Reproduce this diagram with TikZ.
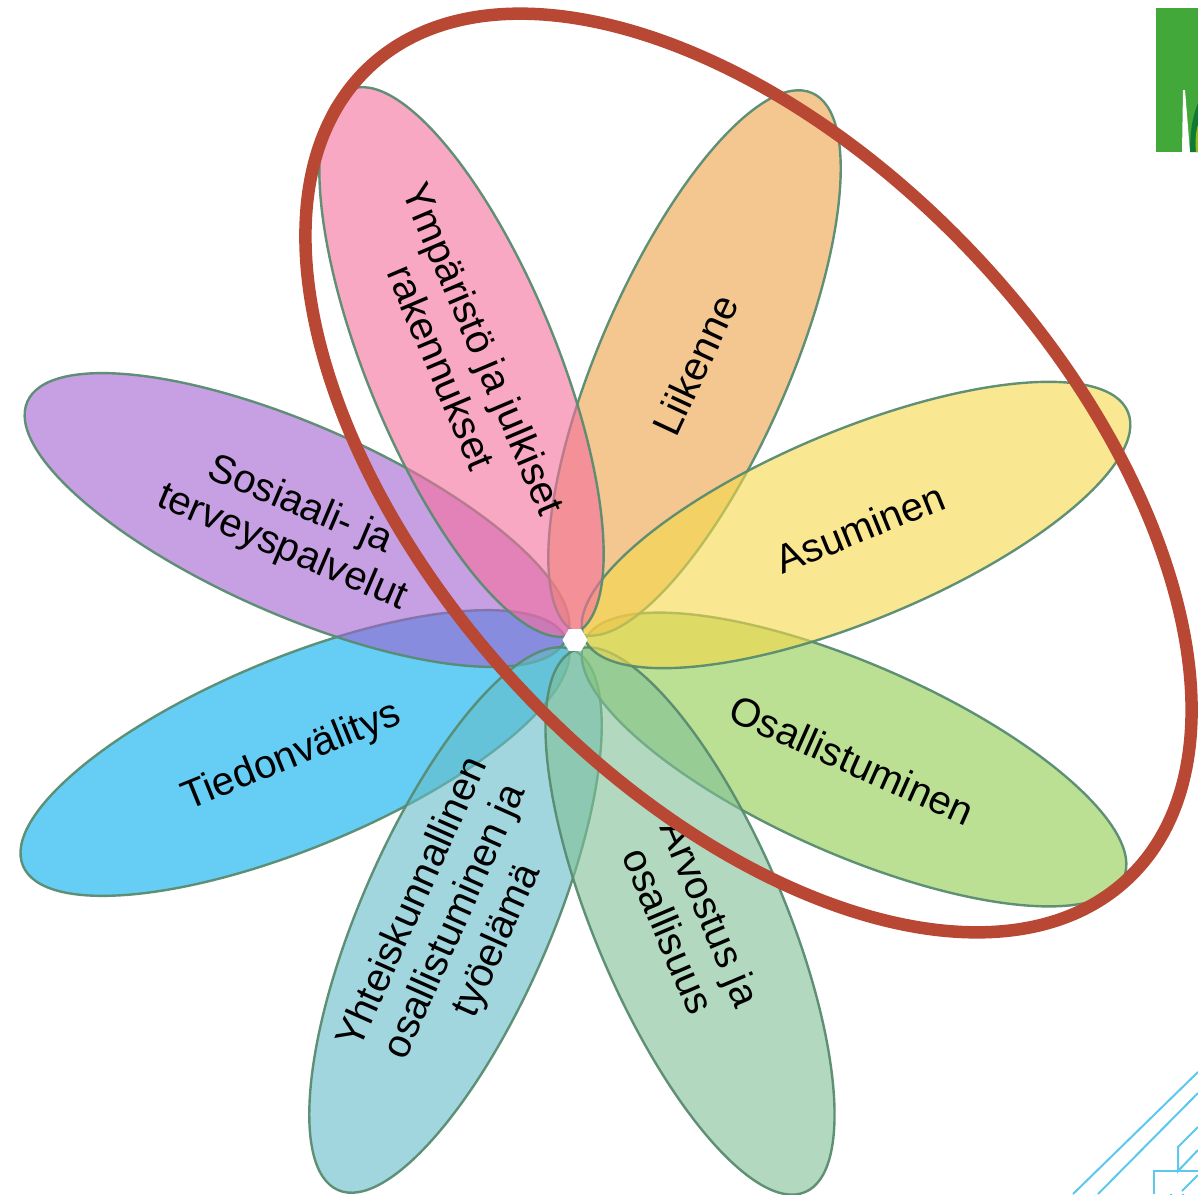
\documentclass[tikz,border=0pt]{standalone}
\usepackage{fontspec}
\setmainfont{Liberation Sans}
\usetikzlibrary{shapes.geometric}
\definecolor{cPink}{RGB}{245,110,157}
\definecolor{cOrange}{RGB}{238,162,72}
\definecolor{cYellow}{RGB}{245,217,73}
\definecolor{cGreen}{RGB}{143,203,75}
\definecolor{cSage}{RGB}{128,192,150}
\definecolor{cTeal}{RGB}{100,187,200}
\definecolor{cBlue}{RGB}{0,172,238}
\definecolor{cPurple}{RGB}{160,97,208}
\definecolor{cEdge}{RGB}{88,140,112}
\definecolor{cRed}{RGB}{184,72,52}
\definecolor{cLogo}{RGB}{66,168,58}
\definecolor{cLogoDark}{RGB}{14,122,50}
\definecolor{cLogoLime}{RGB}{150,190,30}
\definecolor{cLine}{RGB}{92,200,238}
\tikzset{
  petal/.style={ellipse,inner sep=0pt,minimum width=589pt,minimum height=190pt,
    fill=#1,fill opacity=0.6,draw=cEdge,line width=2.4pt,draw opacity=0.95},
  lbl/.style={font=\fontsize{40}{46}\selectfont,align=center,text=black,inner sep=0pt},
  ring/.style={ellipse,inner sep=0pt,minimum width=1111pt,minimum height=628pt,
    draw=cRed,line width=12.5pt},
  deco/.style={draw=cLine,line width=2pt}
}
\begin{document}
\begin{tikzpicture}[x=1pt,y=-1pt]
\useasboundingbox (0,0) rectangle (1198,1194);
\clip (0,0) rectangle (1198,1194);
\fill[white] (0,0) rectangle (1198,1194);
% logo fragment
\fill[cLogo] (1156,8) -- (1198,8) -- (1198,152) -- (1156,152) -- cycle;
\fill[white] (1182,152) -- (1183,90) -- (1185,90) -- (1190,152) -- cycle;
\fill[cLogoDark] (1190,152) .. controls (1190,130) and (1193,115) .. (1198,103) -- (1198,152) -- cycle;
\fill[cLogoLime] (1196,152) .. controls (1195,140) and (1196,130) .. (1198,125) -- (1198,152) -- cycle;
% circuit lines
\draw[deco] (1073,1194) -- (1198,1072);
\draw[deco] (1098,1194) -- (1198,1093);
\draw[deco] (1198,1127) -- (1178,1147) -- (1178,1171) -- (1198,1150);
\draw[deco] (1198,1171) -- (1154,1171) -- (1154,1194);
\draw[deco] (1171,1194) arc (180:0:6);
\draw[deco] (1182,1191) -- (1198,1175);
% petals, back to front
\node[petal=cBlue,rotate=22.5] (pBlue) at (295,753) {};
\node[petal=cPurple,rotate=-23.7] (pPurple) at (297,520) {};
\node[petal=cTeal,rotate=66.5] (pTeal) at (455.5,920) {};
\node[petal=cGreen,rotate=-23.7] (pGreen) at (854,759.5) {};
\node[petal=cSage,rotate=-67] (pSage) at (690,921) {};
\node[petal=cOrange,rotate=66.5] (pOrange) at (694.5,363) {};
\node[petal=cYellow,rotate=22.6] (pYellow) at (856,525) {};
\node[petal=cPink,rotate=-67.7] (pPink) at (461.5,362) {};
\node[regular polygon,regular polygon sides=6,minimum size=25pt,inner sep=0pt,fill=white] (hub) at (575,640) {};
% labels
\node[lbl,rotate=65] (tLiikenne) at (695,365) {Liikenne};
\node[lbl,rotate=22] (tAsuminen) at (860,528) {Asuminen};
\node[lbl,rotate=-24] (tOsall) at (852,760) {Osallistuminen};
\node[lbl,rotate=-67] (tYmp) at (463,358) {Ympäristö ja julkiset\\rakennukset};
\node[lbl,rotate=-23] (tSos) at (291,527) {Sosiaali- ja\\terveyspalvelut};
\node[lbl,rotate=22] (tTied) at (292,757) {Tiedonvälitys};
\node[lbl,rotate=66] (tYht) at (456,922) {Yhteiskunnallinen\\osallistuminen ja\\työelämä};
\node[lbl,rotate=-67] (tArv) at (690,922) {Arvostus ja\\osallisuus};
% ring
\node[ring,rotate=-47] (ringNode) at (748.5,473) {};
\end{tikzpicture}
\end{document}
